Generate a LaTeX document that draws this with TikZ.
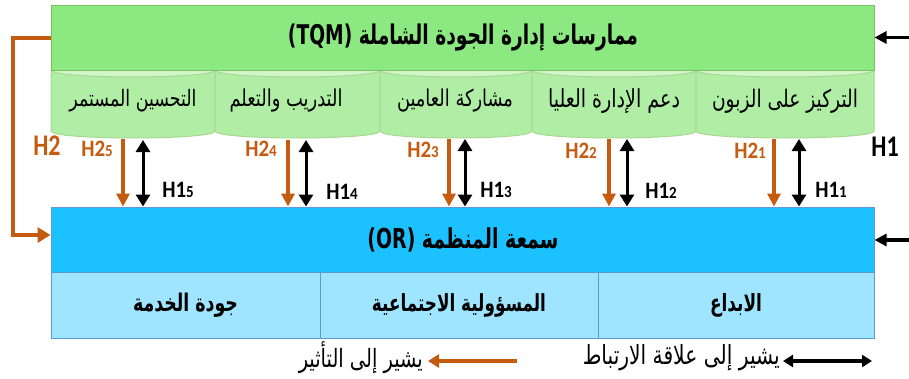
\documentclass[tikz,border=0pt]{standalone}
\usepackage{fontspec}
\usepackage{graphicx}
\usetikzlibrary{arrows.meta}
\setmainfont{Carlito}
\newfontfamily\arabicfont[Script=Arabic]{DejaVu Sans}
\TeXXeTstate=1
\newcommand{\fitar}[3][1.3]{\scalebox{1}[#1]{\resizebox{#2pt}{!}{\arabicfont #3}}}
\newcommand{\hlab}[2]{\scalebox{1}[1.12]{H#1{\fontsize{15pt}{15pt}\selectfont #2}}}
\definecolor{tqmgreen}{RGB}{140,232,128}
\definecolor{tqmedge}{RGB}{120,195,95}
\definecolor{cylbody}{RGB}{176,238,165}
\definecolor{cyltop}{RGB}{210,246,202}
\definecolor{cyledge}{RGB}{168,214,148}
\definecolor{orblue}{RGB}{28,194,255}
\definecolor{oredge}{RGB}{100,150,220}
\definecolor{rowblue}{RGB}{160,229,255}
\definecolor{rowedge}{RGB}{91,155,213}
\definecolor{effor}{RGB}{197,90,17}
\tikzset{
  bigbox/.style={draw=#1, line width=1pt, inner sep=0pt, minimum width=823pt, minimum height=65pt},
  rowcell/.style={draw=rowedge, fill=rowblue, line width=1pt, inner sep=0pt, minimum height=66pt},
  oarrow/.style={draw=effor, line width=3.5pt, -{Triangle[length=13pt,width=13pt]}},
  barrow/.style={draw=black, line width=3pt, {Triangle[length=12pt,width=14pt]}-{Triangle[length=12pt,width=14pt]}},
  sidearrow/.style={draw=black, line width=3.2pt, -{Triangle[length=12pt,width=12pt]}},
  olabel/.style={text=effor, font=\bfseries\fontsize{21pt}{21pt}\selectfont, inner sep=0pt},
  blabel/.style={text=black, font=\bfseries\fontsize{21pt}{21pt}\selectfont, inner sep=0pt},
  artext/.style={inner sep=0pt}
}
\begin{document}
\begin{tikzpicture}[x=1pt,y=-1pt]
\useasboundingbox (0,0) rectangle (909,378);
% cylinders
\foreach \l/\r in {51/215,215/380,380/532,532/696,696/874}{
  \fill[cylbody] (\l,70) -- (\l,131) .. controls (\l,140.3) and (\r,140.3) .. (\r,131) -- (\r,70) -- cycle;
  \draw[cyledge, line width=1pt] (\l,70) -- (\l,131) .. controls (\l,140.3) and (\r,140.3) .. (\r,131) -- (\r,70);
  \fill[cyltop] (\l,70) .. controls (\l,79.3) and (\r,79.3) .. (\r,70) -- cycle;
  \draw[cyledge, line width=1pt] (\l,70) .. controls (\l,79.3) and (\r,79.3) .. (\r,70);
}
\node[artext] (c5) at (133,101) {\fitar{127}{\beginR التحسين المستمر\endR}};
\node[artext] (c4) at (286,101) {\fitar{113}{\beginR التدريب والتعلم\endR}};
\node[artext] (c3) at (455,101) {\fitar{116}{\beginR مشاركة العامين\endR}};
\node[artext] (c2) at (614,101) {\fitar{132}{\beginR دعم الإدارة العليا\endR}};
\node[artext] (c1) at (785,101) {\fitar{146}{\beginR التركيز على الزبون\endR}};
% top box
\node[bigbox=tqmedge, fill=tqmgreen] (tqm) at (462.5,37.5) {};
\node[artext] (tqmt) at (463,38) {\fitar[1.45]{350}{\bfseries\beginR ممارسات إدارة الجودة الشاملة \beginL(TQM)\endL\endR}};
% OR box
\node[bigbox=oredge, fill=orblue] (orbox) at (462.5,239.5) {};
\node[artext] (ort) at (463,240) {\fitar[1.45]{191}{\bfseries\beginR سمعة المنظمة \beginL(OR)\endL\endR}};
% row
\node[rowcell, minimum width=269pt] (r3) at (185.5,305) {};
\node[rowcell, minimum width=278pt] (r2) at (459,305) {};
\node[rowcell, minimum width=276pt] (r1) at (736,305) {};
\node[artext] at (r3) {\fitar[1.4]{105}{\bfseries\beginR جودة الخدمة\endR}};
\node[artext] at (r2) {\fitar[1.4]{174}{\bfseries\beginR المسؤولية الاجتماعية\endR}};
\node[artext] at (r1) {\fitar[1.4]{52}{\bfseries\beginR الابداع\endR}};
% bottom points of cylinders
\coordinate (o5) at (123,139); \coordinate (b5) at (143,140);
\coordinate (o4) at (288,140); \coordinate (b4) at (306,140);
\coordinate (o3) at (449,139); \coordinate (b3) at (465,139);
\coordinate (o2) at (609,139); \coordinate (b2) at (627,139);
\coordinate (o1) at (774,139); \coordinate (b1) at (799,139);
\foreach \i in {1,...,5}{
  \draw[oarrow] (o\i) -- (o\i |- orbox.north);
  \draw[barrow] (b\i) -- (b\i |- orbox.north);
}
% labels
\node[olabel] (h25) at (97,149) {\hlab{2}{5}};
\node[olabel] (h24) at (261,149) {\hlab{2}{4}};
\node[olabel] (h23) at (423,150) {\hlab{2}{3}};
\node[olabel] (h22) at (581,151) {\hlab{2}{2}};
\node[olabel] (h21) at (750,151) {\hlab{2}{1}};
\node[blabel] (h15) at (178,190) {\hlab{1}{5}};
\node[blabel] (h14) at (342,192) {\hlab{1}{4}};
\node[blabel] (h13) at (496,190) {\hlab{1}{3}};
\node[blabel] (h12) at (661,191) {\hlab{1}{2}};
\node[blabel] (h11) at (831,190) {\hlab{1}{1}};
\node[olabel, font=\bfseries\fontsize{24pt}{24pt}\selectfont] (h2) at (47,146) {\scalebox{1}[1.25]{H2}};
\node[blabel, font=\bfseries\fontsize{24pt}{24pt}\selectfont] (h1) at (885,147) {\scalebox{1}[1.25]{H1}};
% orange L connector
\coordinate (lk) at (13,235);
\draw[effor, line width=4pt, -{Triangle[length=13pt,width=15pt]}] (tqm.west) -| (lk) -- (lk -| orbox.west);
% right side arrows
\coordinate (rt) at (909,37.5);
\coordinate (rb) at (909,240);
\draw[sidearrow] (rt) -- (tqm.east);
\draw[sidearrow] (rb) -- (rb -| orbox.east);
% legend
\coordinate (lb1) at (783,361); \coordinate (lb2) at (872,361);
\draw[draw=black, line width=3.2pt, {Triangle[length=10pt,width=12pt]}-{Triangle[length=10pt,width=12pt]}] (lb1) -- (lb2);
\node[artext, anchor=east] (lbt) at (780,358) {\fitar{197}{\beginR يشير إلى علاقة الارتباط\endR}};
\coordinate (lo1) at (517,361); \coordinate (lo2) at (428,361);
\draw[draw=effor, line width=4pt, -{Triangle[length=11pt,width=13pt]}] (lo1) -- (lo2);
\node[artext, anchor=east] (lot) at (423,358) {\fitar{124}{\beginR يشير إلى التأثير\endR}};
\end{tikzpicture}
\end{document}
